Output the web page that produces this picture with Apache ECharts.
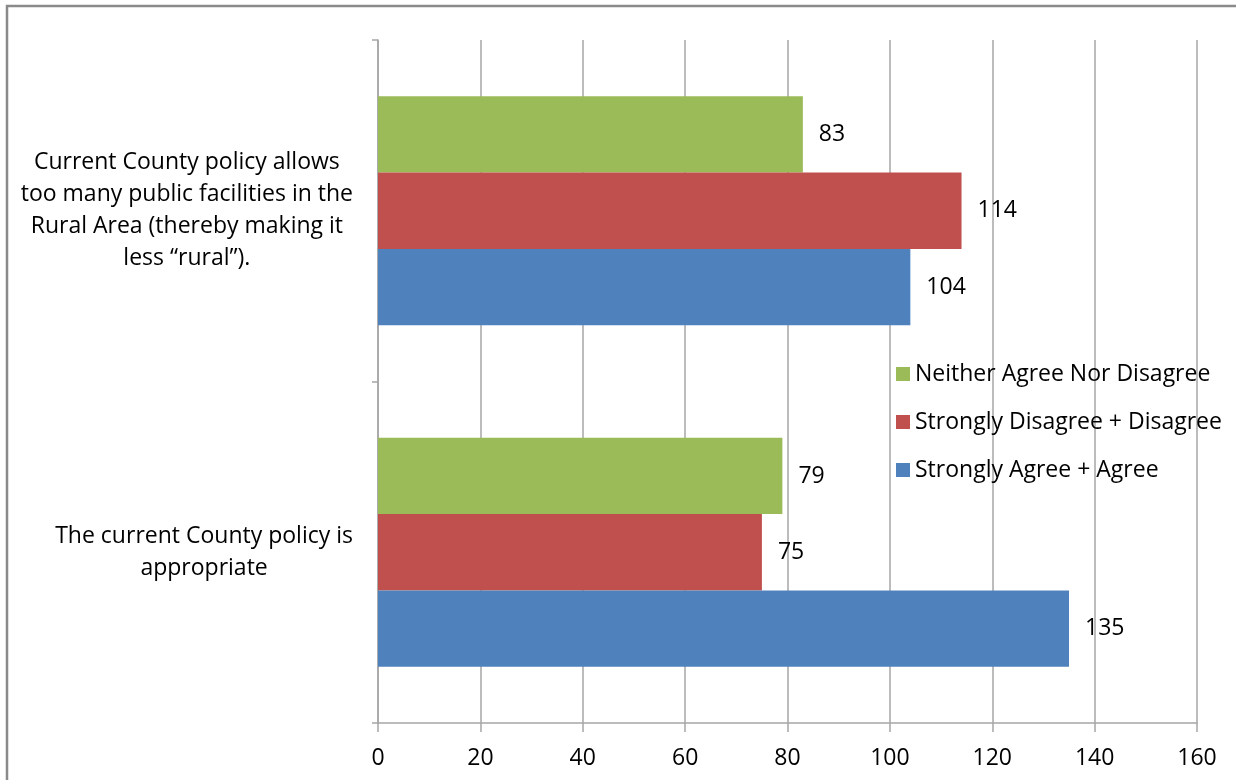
<!DOCTYPE html>
<html>
<head>
<meta charset="utf-8">
<script src="https://cdn.jsdelivr.net/npm/echarts@6/dist/echarts.min.js"></script>
<style>html,body{margin:0;padding:0;background:#fff;}#chart{width:1236px;height:780px;}</style>
</head>
<body>
<div id="chart"></div>
<script>
// Categories listed bottom-to-top (ECharts category y axis runs upward)
const categories = [
  'The current County policy is\nappropriate',
  'Current County policy allows\ntoo many public facilities in the\nRural Area (thereby making it\nless \u201crural\u201d).'
];
const seriesNames = ['Neither Agree Nor Disagree', 'Strongly Disagree + Disagree', 'Strongly Agree + Agree'];
const neitherValues = [79, 83];
const disagreeValues = [75, 114];
const agreeValues = [135, 104];
const xTicks = { min: 0, max: 160, interval: 20 };

const FONT = '"Open Sans"';
const FS = 23;
const colors = ['#9BBB59', '#C0504D', '#4F81BD'];
const gridColor = '#A6A6A6';

const chart = echarts.init(document.getElementById('chart'), null, { renderer: 'canvas' });

function mkSeries(name, data, color) {
  return {
    name: name,
    type: 'bar',
    data: data,
    barGap: '0%',
    barCategoryGap: '33%',
    itemStyle: { color: color },
    label: {
      show: true,
      position: 'right',
      distance: 16,
      color: '#000',
      fontFamily: FONT,
      fontSize: FS
    },
    emphasis: { disabled: true },
    animation: false
  };
}

chart.setOption({
  backgroundColor: '#fff',
  animation: false,
  graphic: [{
    type: 'rect',
    shape: { x: 7, y: 6, width: 1300, height: 900 },
    style: { fill: 'none', stroke: '#8A8A8A', lineWidth: 2.5 },
    z: 100
  }],
  grid: { left: 378, right: 39, top: 40, bottom: 57, containLabel: false },
  legend: {
    orient: 'vertical',
    left: 891,
    top: 356,
    itemWidth: 14,
    itemHeight: 14,
    itemGap: 22,
    icon: 'rect',
    data: seriesNames,
    textStyle: { fontFamily: FONT, fontSize: FS, color: '#000', lineHeight: 26 }
  },
  xAxis: {
    type: 'value',
    min: xTicks.min,
    max: xTicks.max,
    interval: xTicks.interval,
    axisLine: { show: true, lineStyle: { color: gridColor, width: 1.5 } },
    axisTick: { show: true, length: 9, lineStyle: { color: gridColor, width: 1.5 } },
    axisLabel: { margin: 24, fontFamily: FONT, fontSize: FS, color: '#000' },
    splitLine: { show: true, lineStyle: { color: gridColor, width: 1.5 } }
  },
  yAxis: {
    type: 'category',
    data: categories,
    axisLine: { show: true, lineStyle: { color: gridColor, width: 1.5 } },
    axisTick: { show: true, length: 6, alignWithLabel: false, lineStyle: { color: gridColor, width: 1.5 } },
    axisLabel: {
      margin: 25,
      align: 'right',
      formatter: function (v) {
        return v.split('\n').map(function (l) { return '{c|' + l + '}'; }).join('\n');
      },
      rich: {
        c: { align: 'center', fontFamily: FONT, fontSize: FS, color: '#000', lineHeight: 32 }
      }
    },
    splitLine: { show: false }
  },
  series: [
    mkSeries(seriesNames[0], neitherValues, colors[0]),
    mkSeries(seriesNames[1], disagreeValues, colors[1]),
    mkSeries(seriesNames[2], agreeValues, colors[2])
  ]
});
</script>
</body>
</html>
